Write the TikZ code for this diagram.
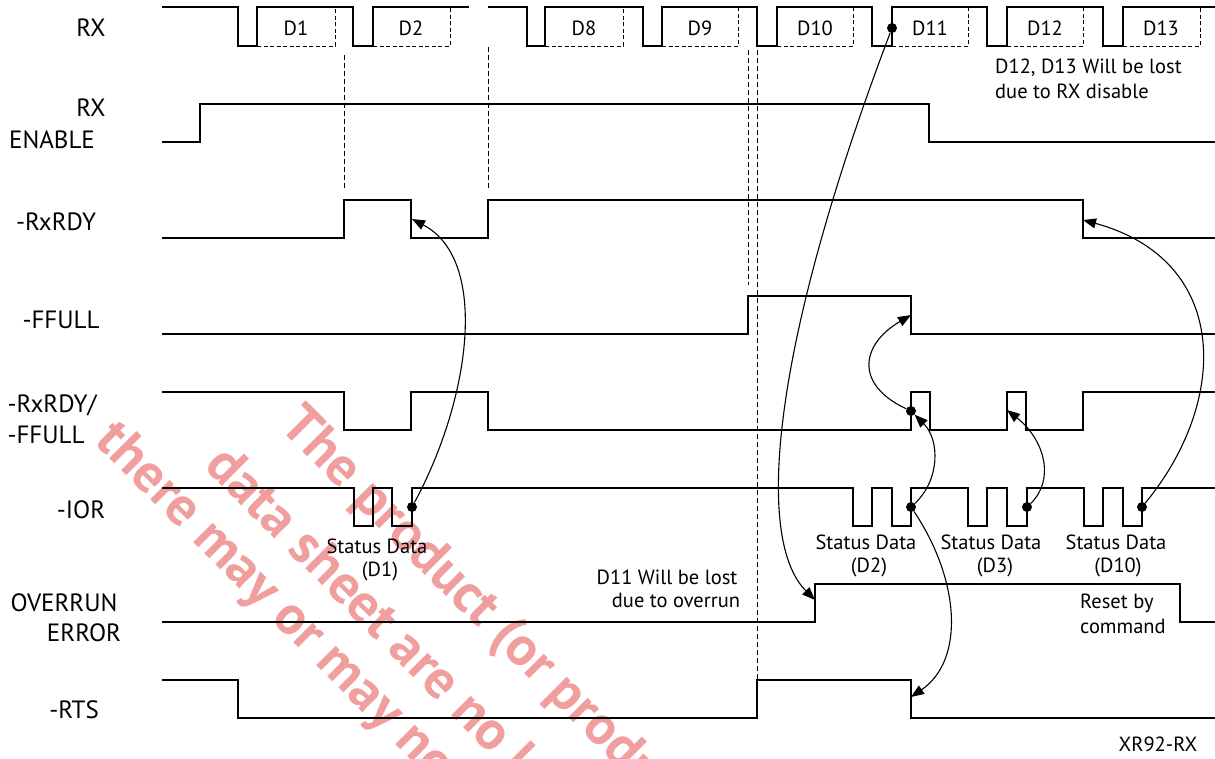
\documentclass[tikz,border=0pt]{standalone}
\usepackage{fontspec}
\setmainfont{PT Sans}
\usetikzlibrary{arrows.meta}
\definecolor{wm}{RGB}{240,158,158}
\begin{document}
\begin{tikzpicture}[x=1pt,y=-1pt,
  wave/.style={line width=1.4pt,line join=miter},
  guide/.style={line width=0.8pt,dash pattern=on 5pt off 3pt},
  boxdash/.style={line width=0.8pt,dash pattern=on 4pt off 2.5pt},
  conn/.style={line width=1.1pt,-{Triangle[length=13pt,width=10pt]}},
  dotnode/.style={circle,fill=black,inner sep=0pt,minimum size=10pt},
  lbl/.style={font=\fontsize{20.5}{24}\selectfont,inner sep=0pt},
  lbll/.style={lbl,anchor=west},
  sig/.style={font=\fontsize{25}{28}\selectfont,inner sep=0pt},
  wmark/.style={text=wm,font=\fontsize{55}{60}\selectfont\bfseries,rotate=-45,anchor=west,inner sep=0pt}]
\fill[white] (0,0) rectangle (1215,759);
\useasboundingbox (0,0) rectangle (1215,759);
% watermark
\begin{scope}
\clip (0,0) rectangle (1215,759);
\node[wmark] (wm1) at (288,418) {The product (or products)};
\node[wmark] (wm2) at (213,458) {data sheet are no longer};
\node[wmark] (wm3) at (103,433) {there may or may not be};
\end{scope}
% signal names
\node[sig] (nRX) at (91,28) {RX};
\node[sig] (nEN1) at (91,108) {RX};
\node[sig] (nEN2) at (52,140) {ENABLE};
\node[sig] (nRDY) at (56,222) {-RxRDY};
\node[sig] (nFF) at (61,320) {-FFULL};
\node[sig] (nRF1) at (52,405) {-RxRDY/};
\node[sig] (nRF2) at (46,435) {-FFULL};
\node[sig] (nIOR) at (81,510) {-IOR};
\node[sig] (nOV1) at (64,603) {OVERRUN};
\node[sig] (nOV2) at (84,633) {ERROR};
\node[sig] (nRTS) at (74,710) {-RTS};
% guide lines
\draw[guide] (344,55) -- (344,190);
\draw[guide] (488,47) -- (488,190);
\draw[guide] (748,50) -- (748,285);
\draw[guide] (757,50) -- (757,680);
% RX
\draw[wave] (162,7) -- (238,7) -- (238,46) -- (257,46) -- (257,7) -- (353,7) -- (353,46) -- (373,46) -- (373,7) -- (469,7);
\draw[wave] (488,7) -- (527,7) -- (527,46) -- (545,46) -- (545,7) -- (643,7) -- (643,46) -- (662,46) -- (662,7) -- (757,7) -- (757,46) -- (777,46) -- (777,7) -- (872,7) -- (872,46) -- (892,46) -- (892,7) -- (987,7) -- (987,46) -- (1007,46) -- (1007,7) -- (1103,7) -- (1103,46) -- (1123,46) -- (1123,7) -- (1215,7);
\foreach \a/\b in {257/335,373/450,545/623,662/738,777/853,892/968,1007/1083,1123/1200}
  \draw[boxdash] (\a,46) -- (\b,46) -- (\b,7);
\node[lbl] (tD1) at (296,28) {D1};
\node[lbl] (tD2) at (411,28) {D2};
\node[lbl] (tD8) at (584,28) {D8};
\node[lbl] (tD9) at (700,28) {D9};
\node[lbl] (tD10) at (815,28) {D10};
\node[lbl] (tD11) at (930,28) {D11};
\node[lbl] (tD12) at (1045,28) {D12};
\node[lbl] (tD13) at (1161,28) {D13};
\node[lbll] (tLost1) at (995,68) {D12, D13 Will be lost};
\node[lbll] (tLost2) at (995,91) {due to RX disable};
% RX ENABLE
\draw[wave] (162,142) -- (200,142) -- (200,104) -- (929,104) -- (929,142) -- (1215,142);
% -RxRDY
\draw[wave] (162,238) -- (344,238) -- (344,200) -- (411,200) -- (411,238) -- (488,238) -- (488,200) -- (1083,200) -- (1083,238) -- (1215,238);
% -FFULL
\draw[wave] (162,334) -- (748,334) -- (748,296) -- (911,296) -- (911,334) -- (1215,334);
% -RxRDY/-FFULL
\draw[wave] (162,392) -- (344,392) -- (344,430) -- (411,430) -- (411,392) -- (488,392) -- (488,430) -- (911,430) -- (911,392) -- (930,392) -- (930,430) -- (1007,430) -- (1007,392) -- (1026,392) -- (1026,430) -- (1083,430) -- (1083,392) -- (1215,392);
% -IOR
\draw[wave] (162,488) -- (354,488) -- (354,526) -- (373,526) -- (373,488) -- (392,488) -- (392,526) -- (412,526) -- (412,488) -- (853,488) -- (853,526) -- (872,526) -- (872,488) -- (892,488) -- (892,526) -- (911,526) -- (911,488) -- (968,488) -- (968,526) -- (987,526) -- (987,488) -- (1007,488) -- (1007,526) -- (1027,526) -- (1027,488) -- (1084,488) -- (1084,526) -- (1103,526) -- (1103,488) -- (1123,488) -- (1123,526) -- (1142,526) -- (1142,488) -- (1215,488);
\node[lbl] (sD1a) at (377,546) {Status Data};
\node[lbl] (sD1b) at (380,571) {(D1)};
\node[lbl] (sD2a) at (866,542) {Status Data};
\node[lbl] (sD2b) at (869,567) {(D2)};
\node[lbl] (sD3a) at (991,542) {Status Data};
\node[lbl] (sD3b) at (995,567) {(D3)};
\node[lbl] (sD10a) at (1116,542) {Status Data};
\node[lbl] (sD10b) at (1118,567) {(D10)};
\node[lbl] (tOv1) at (667,577) {D11 Will be lost};
\node[lbl] (tOv2) at (676,600) {due to overrun};
% OVERRUN ERROR
\draw[wave] (162,622) -- (815,622) -- (815,584) -- (1180,584) -- (1180,622) -- (1215,622);
\node[lbll] (tRes1) at (1080,603) {Reset by};
\node[lbll] (tRes2) at (1080,626) {command};
% -RTS
\draw[wave] (162,680) -- (238,680) -- (238,718) -- (757,718) -- (757,680) -- (911,680) -- (911,718) -- (1215,718);
\node[lbl] (tFig) at (1158,744) {XR92-RX};
% dots and targets
\node[dotnode] (dRX) at (892,28) {};
\node[dotnode] (dI1) at (412,507) {};
\node[dotnode] (dI2) at (911,507) {};
\node[dotnode] (dI3) at (1027,507) {};
\node[dotnode] (dI4) at (1142,507) {};
\node[dotnode] (dRF) at (911,411) {};
\coordinate (rdyA) at (412,219);
\coordinate (ffA) at (911,315);
\coordinate (rfB) at (1007,410);
\coordinate (rdyB) at (1083,220);
\coordinate (ovr) at (815,600);
\coordinate (rts) at (911,697);
% connectors
\draw[conn] (dI1) .. controls (470,400) and (490,260) .. (rdyA);
\draw[conn] (dI2) .. controls (940,480) and (940,440) .. (dRF);
\draw[conn] (dRF) .. controls (855,385) and (860,345) .. (ffA);
\draw[conn] (dI3) .. controls (1055,480) and (1045,440) .. (rfB);
\draw[conn] (dI4) .. controls (1230,400) and (1230,260) .. (rdyB);
\draw[conn] (dRX) .. controls (770,350) and (755,540) .. (ovr);
\draw[conn] (dI2) .. controls (960,580) and (965,660) .. (rts);
\end{tikzpicture}
\end{document}
